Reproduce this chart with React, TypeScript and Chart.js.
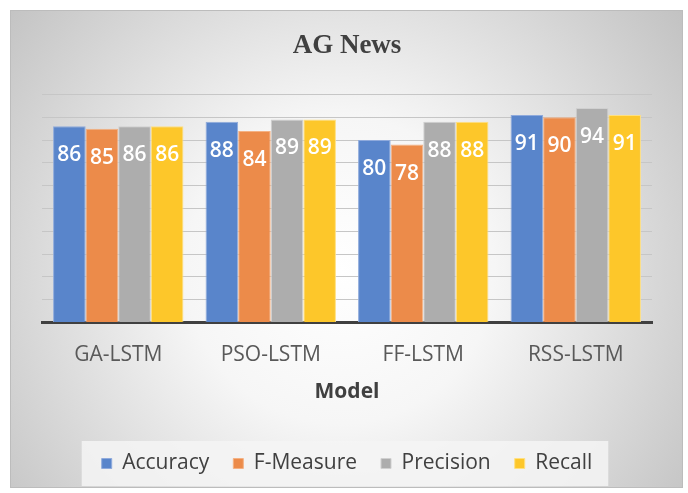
import React, { useEffect, useRef } from "react";
import { Chart, registerables } from "chart.js";

Chart.register(...registerables);

const categories = ["GA-LSTM", "PSO-LSTM", "FF-LSTM", "RSS-LSTM"];
const seriesNames = ["Accuracy", "F-Measure", "Precision", "Recall"];
const accuracy = [86, 88, 80, 91];
const fMeasure = [85, 84, 78, 90];
const precision = [86, 89, 88, 94];
const recall = [86, 89, 88, 91];
const yMin = 0;
const yMax = 100;
const yStep = 10;

const fillColors = ["#5985CB", "#EC8B4A", "#ADADAD", "#FDC72A"];
const edgeColors = ["#8FAADC", "#F4B183", "#D0D0D0", "#FFE080"];

const backgroundPlugin = {
  id: "bgPanel",
  beforeDraw(chart: any) {
    const { ctx, width, height } = chart;
    ctx.save();
    ctx.fillStyle = "#ffffff";
    ctx.fillRect(0, 0, width, height);
    const g = ctx.createRadialGradient(340, 270, 0, 340, 270, 440);
    g.addColorStop(0, "#ffffff");
    g.addColorStop(0.35, "#f6f6f6");
    g.addColorStop(1, "#c0c0c0");
    ctx.fillStyle = g;
    ctx.fillRect(10, 10, 673, 478);
    ctx.strokeStyle = "#bcbcbc";
    ctx.lineWidth = 1;
    ctx.strokeRect(10.5, 10.5, 672, 477);
    const lg = chart.legend;
    if (lg && lg.legendHitBoxes && lg.legendHitBoxes.length) {
      const hb = lg.legendHitBoxes;
      const first = hb[0];
      const last = hb[hb.length - 1];
      const cy = first.top + first.height / 2;
      const left = first.left - 20;
      const right = last.left + last.width + 16;
      ctx.fillStyle = "rgba(244,244,244,0.85)";
      ctx.fillRect(left, cy - 22.5, right - left, 45);
    }
    ctx.restore();
  },
};

const valueLabelPlugin = {
  id: "valueLabels",
  afterDatasetsDraw(chart: any) {
    const { ctx } = chart;
    ctx.save();
    ctx.font = "600 21px 'Open Sans'";
    ctx.fillStyle = "#ffffff";
    ctx.textAlign = "center";
    ctx.textBaseline = "middle";
    chart.data.datasets.forEach((ds: any, i: number) => {
      const meta = chart.getDatasetMeta(i);
      meta.data.forEach((el: any, j: number) => {
        ctx.fillText(String(ds.data[j]), el.x, el.y + 29);
      });
    });
    ctx.restore();
  },
};

export default function App() {
  const ref = useRef<HTMLCanvasElement | null>(null);
  useEffect(() => {
    if (!ref.current) return;
    const series = [accuracy, fMeasure, precision, recall];
    const chart = new Chart(ref.current, {
      type: "bar",
      data: {
        labels: categories,
        datasets: series.map((d, i) => ({
          label: seriesNames[i],
          data: d,
          backgroundColor: fillColors[i],
          borderColor: edgeColors[i],
          borderWidth: 1,
          categoryPercentage: 0.855,
          barPercentage: 1,
        })),
      },
      options: {
        responsive: false,
        animation: false,
        layout: { padding: { top: 22, left: 42, right: 36, bottom: 9 } },
        plugins: {
          title: {
            display: true,
            text: "AG News",
            color: "#404040",
            font: { family: "'Liberation Serif'", size: 27, weight: "bold" },
            padding: { top: 8, bottom: 32 },
          },
          legend: {
            position: "bottom",
            labels: {
              boxWidth: 10,
              boxHeight: 10,
              padding: 24,
              color: "#404040",
              font: { family: "'Open Sans'", size: 21 },
            },
          },
          tooltip: { enabled: false },
        },
        scales: {
          x: {
            grid: { display: false, drawTicks: false },
            border: { display: true, color: "#404040", width: 3 },
            ticks: {
              color: "#595959",
              padding: 20,
              font: { family: "'Open Sans'", size: 21 },
            },
            title: {
              display: true,
              text: "Model",
              color: "#404040",
              font: { family: "'Open Sans'", size: 21, weight: "bold" },
              padding: { top: -8, bottom: 24 },
            },
          },
          y: {
            min: yMin,
            max: yMax,
            ticks: { display: false, stepSize: yStep },
            grid: { color: "#c6c6c6", lineWidth: 1, drawTicks: false },
            border: { display: false },
          },
        },
      },
      plugins: [backgroundPlugin, valueLabelPlugin],
    });
    return () => chart.destroy();
  }, []);
  return (
    <div style={{ position: "fixed", left: 0, top: 0, width: 688, height: 493 }}>
      <canvas ref={ref} width={688} height={493} style={{ width: 688, height: 493 }} />
    </div>
  );
}
